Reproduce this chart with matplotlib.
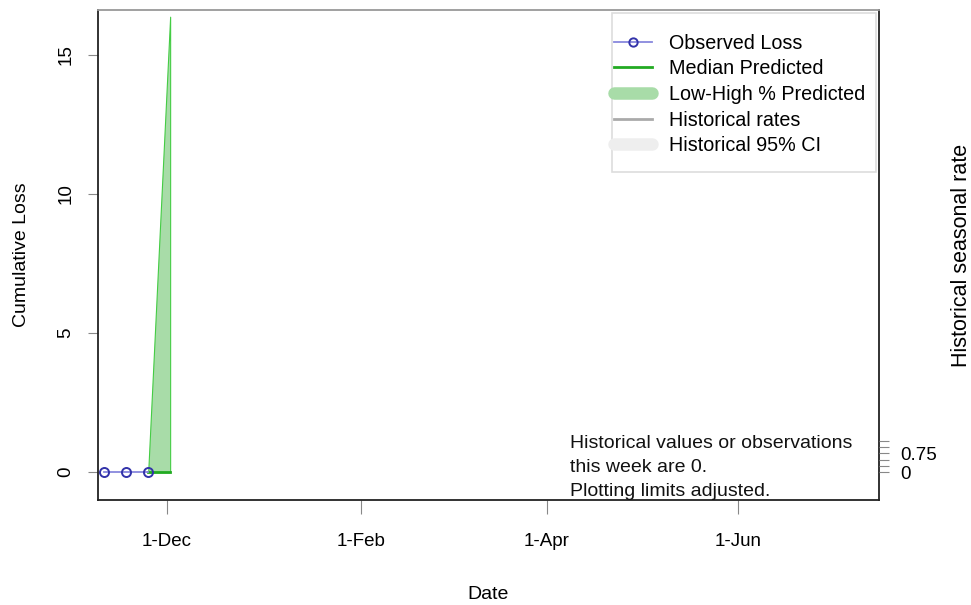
import datetime as dt
import matplotlib.pyplot as plt
import matplotlib.dates as mdates
from matplotlib.lines import Line2D
from matplotlib.patches import Rectangle

plt.rcParams['font.family'] = ['Liberation Sans', 'DejaVu Sans']

# observed weekly cumulative loss
obs_dates = [dt.date(2022, 11, 11), dt.date(2022, 11, 18), dt.date(2022, 11, 25)]
obs_loss = [0, 0, 0]

# prediction for the next week
pred_dates = [dt.date(2022, 11, 25), dt.date(2022, 12, 2)]
pred_median = [0, 0]
pred_low = [0, 0]
pred_high = [0, 16.36]

# historical seasonal rate axis
rate_ticks = [0, 0.25, 0.5, 0.75, 1.0, 1.25]
rate_labels = ['0', '', '', '0.75', '', '']

month_ticks = [dt.date(2022, 12, 1), dt.date(2023, 2, 1), dt.date(2023, 4, 1), dt.date(2023, 6, 1)]

note = 'Historical values or observations\nthis week are 0.\nPlotting limits adjusted.'

fig = plt.figure(figsize=(9.71, 6.05), dpi=100)
ax = fig.add_axes([98 / 971, 105 / 605, 781 / 971, 490 / 605])

ax.fill_between(pred_dates, pred_low, pred_high, color='#a8dca8', edgecolor='#44cc44', linewidth=0.8)
ax.plot(pred_dates, pred_median, color='#22aa22', lw=2)
ax.plot(obs_dates, obs_loss, color='#8888dd', lw=1.3, marker='o', ms=6.5, mfc='none',
        mec='#3333aa', mew=1.4)

ax.set_xlim(dt.date(2022, 11, 9), dt.date(2023, 7, 16))
ax.set_ylim(-1.0, 16.6)
ax.set_xticks(month_ticks)
ax.xaxis.set_major_formatter(mdates.DateFormatter('%-d-%b'))
ax.set_yticks([0, 5, 10, 15])
ax.tick_params(axis='x', length=10, color='#888888', pad=14, labelsize=13.5)
ax.tick_params(axis='y', length=7, color='#888888', pad=10, labelsize=13.5, labelrotation=90)
for lab in ax.get_yticklabels():
    lab.set_va('center')
ax.set_xlabel('Date', fontsize=14, labelpad=26)
ax.set_ylabel('Cumulative Loss', fontsize=14, labelpad=20)

for side in ['left', 'bottom', 'right']:
    ax.spines[side].set_color('#222222')
    ax.spines[side].set_linewidth(1.3)
ax.spines['top'].set_color('#999999')
ax.spines['top'].set_linewidth(1.3)

ax2 = ax.twinx()
ax2.set_ylim(-1.1, 18.26)
ax2.set_yticks(rate_ticks)
ax2.set_yticklabels(rate_labels)
ax2.tick_params(axis='y', length=7, color='#888888', pad=8, labelsize=13.5)
ax2.set_ylabel('Historical seasonal rate', fontsize=15.5, va='center', ha='center', rotation=90)
ax2.yaxis.set_label_coords(1.106, 0.5)
for sp in ax2.spines.values():
    sp.set_visible(False)

ax.text(0.604, 0.066, note, transform=ax.transAxes, fontsize=14, va='center', ha='left',
        linespacing=1.56, color='#111111')

handles = [
    Line2D([], [], color='#8888dd', lw=1.3, marker='o', ms=6, mfc='none', mec='#3333aa', mew=1.4),
    Line2D([], [], color='#22aa22', lw=2),
    Line2D([], [], color='#a8dca8', lw=9, solid_capstyle='round'),
    Line2D([], [], color='#aaaaaa', lw=2),
    Line2D([], [], color='#eeeeee', lw=9, solid_capstyle='round'),
]
labels = ['Observed Loss', 'Median Predicted', 'Low-High % Predicted', 'Historical rates', 'Historical 95% CI']
ax2.add_patch(Rectangle((0.658, 0.669), 0.338, 0.325, transform=ax.transAxes, facecolor='white',
                        edgecolor='#dddddd', lw=1.2, zorder=4))
leg = ax2.legend(handles, labels, loc='upper left', bbox_to_anchor=(0.6607, 0.952), fontsize=14.2,
                 frameon=False, labelspacing=0.34, borderpad=0, borderaxespad=0,
                 handlelength=1.95, handletextpad=0.85)
leg.set_zorder(5)

fig.savefig('out.png', dpi=100)
